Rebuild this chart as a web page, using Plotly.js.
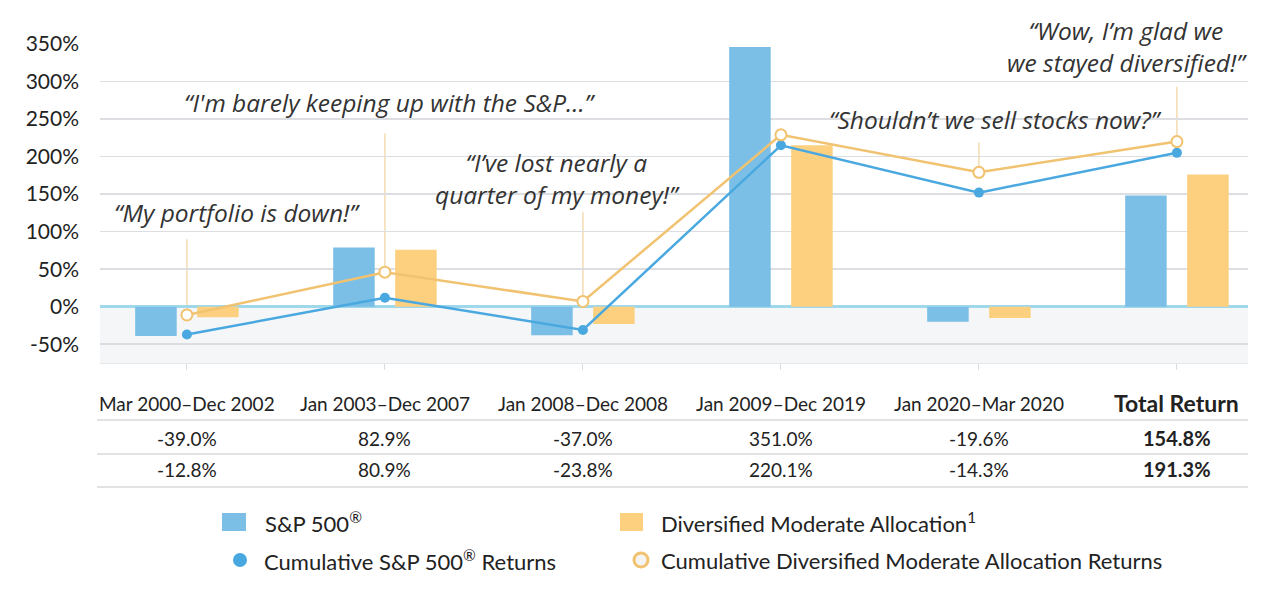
<!DOCTYPE html>
<html><head><meta charset="utf-8">
<script src="https://cdn.plot.ly/plotly-3.0.1.min.js"></script>
<style>html,body{margin:0;padding:0;background:#fff}</style>
</head><body><div id="chart" style="width:1280px;height:611px"></div>
<script>
// ---- data ----
const periods = ["Mar 2000–Dec 2002","Jan 2003–Dec 2007","Jan 2008–Dec 2008","Jan 2009–Dec 2019","Jan 2020–Mar 2020","Total Return"];
const spReturns = [-39, 79, -38, 346, -20, 148];
const divReturns = [-14, 76, -23, 215, -15, 176];
const spCumulative = [-37, 12, -31, 215, 152, 205];
const divCumulative = [-11, 46, 7, 229, 179, 220];
const spTable = ["-39.0%","82.9%","-37.0%","351.0%","-19.6%","154.8%"];
const divTable = ["-12.8%","80.9%","-23.8%","220.1%","-14.3%","191.3%"];
const yTickVals = [-50,0,50,100,150,200,250,300,350];
const yTickText = yTickVals.map(v => v + "%");
const quoteTexts = [
  "“My portfolio is down!”",
  "“I'm barely keeping up with the S&amp;P...”",
  "“I’ve lost nearly a<br>quarter of my money!”",
  "“Shouldn’t we sell stocks now?”",
  "“Wow, I’m glad we<br>we stayed diversified!”"
];
const quotePeriodIdx = [0, 1, 2, 4, 5];
const legendLabels = ["S&amp;P 500<sup>®</sup>","Diversified Moderate Allocation<sup>1</sup>","Cumulative S&amp;P 500<sup>®</sup> Returns","Cumulative Diversified Moderate Allocation Returns"];

// ---- layout helpers (pixel -> paper) ----
const L = 100, R = 1248, T = 44, B = 363;
const px = x => (x - L) / (R - L);
const py = y => (B - y) / (B - T);
const xs = periods.map((_, i) => i);

const blue = "#7bbfe6", orange = "#fdd080";
const blueLine = "#4aa8e0", orangeLine = "#f1c270";
const textFont = "Lato, 'Open Sans', sans-serif";
const quoteFont = "'Open Sans', sans-serif";

const traces = [
  {type:"bar", x:xs, y:spReturns, name:legendLabels[0], marker:{color:blue}, hoverinfo:"skip"},
  {type:"bar", x:xs, y:divReturns, name:legendLabels[1], marker:{color:orange}, hoverinfo:"skip"},
  {type:"scatter", mode:"lines+markers", x:xs, y:spCumulative, name:legendLabels[2],
   line:{color:blueLine, width:2.5}, marker:{color:blueLine, size:10}, hoverinfo:"skip"},
  {type:"scatter", mode:"lines+markers", x:xs, y:divCumulative, name:legendLabels[3],
   line:{color:orangeLine, width:2.5}, marker:{color:"#ffffff", size:11, line:{color:orangeLine, width:2}}, hoverinfo:"skip"}
];

const shapes = [];
const annotations = [];

// shaded region below zero
shapes.push({type:"rect", xref:"paper", yref:"y", x0:0, x1:1, y0:-75, y1:0, fillcolor:"#f5f6f8", line:{width:0}, layer:"below"});

// quote connector lines + quotes
const connectorTop = [90, 231, 126, 219, 293];
const quotePos = [
  {x:237, y:212}, {x:390, y:103}, {x:557, y:178}, {x:995, y:119}, {x:1127, y:46}
];
quoteTexts.forEach((t, k) => {
  const i = quotePeriodIdx[k];
  shapes.push({type:"line", xref:"x", yref:"y", x0:i, x1:i, y0:divCumulative[i], y1:connectorTop[k],
    line:{color:"#f0d39e", width:1.2}, layer:"below"});
  annotations.push({xref:"paper", yref:"paper", x:px(quotePos[k].x), y:py(quotePos[k].y),
    xanchor:"center", yanchor:"middle", text:"<i>"+t+"</i>", showarrow:false,
    font:{family:quoteFont, size:24.5, color:"#333333"}});
});

// table
const rowY = [403, 438, 469];
periods.forEach((p, i) => {
  const bold = (i === periods.length - 1);
  const wrap = s => bold ? "<b>"+s+"</b>" : s;
  annotations.push({xref:"x", yref:"paper", x:i, y:py(rowY[0]), text:wrap(p), showarrow:false,
    xanchor:"center", yanchor:"middle", font:{family:textFont, size:bold ? 23 : 19, color:"#222"}});
  annotations.push({xref:"x", yref:"paper", x:i, y:py(rowY[1]), text:wrap(spTable[i]), showarrow:false,
    xanchor:"center", yanchor:"middle", font:{family:textFont, size:bold ? 20 : 19, color:"#222"}});
  annotations.push({xref:"x", yref:"paper", x:i, y:py(rowY[2]), text:wrap(divTable[i]), showarrow:false,
    xanchor:"center", yanchor:"middle", font:{family:textFont, size:bold ? 20 : 19, color:"#222"}});
});
[420, 454, 487].forEach(y => {
  shapes.push({type:"line", xref:"paper", yref:"paper", x0:px(97), x1:px(1248), y0:py(y), y1:py(y),
    line:{color:"#d6d8db", width:1.5}});
});

// legend (custom)
shapes.push({type:"rect", xref:"paper", yref:"paper", x0:px(222), x1:px(246), y0:py(531), y1:py(513), fillcolor:blue, line:{width:0}});
shapes.push({type:"rect", xref:"paper", yref:"paper", x0:px(620), x1:px(643), y0:py(531), y1:py(513), fillcolor:orange, line:{width:0}});
shapes.push({type:"circle", xref:"paper", yref:"paper", x0:px(233), x1:px(247), y0:py(567), y1:py(553), fillcolor:blueLine, line:{width:0}});
shapes.push({type:"circle", xref:"paper", yref:"paper", x0:px(634), x1:px(648), y0:py(567), y1:py(553), fillcolor:"#f4f4f4", line:{color:orangeLine, width:3}});
const legPos = [{x:263,y:522},{x:659,y:522},{x:262,y:560},{x:659,y:560}];
legendLabels.forEach((t, k) => {
  annotations.push({xref:"paper", yref:"paper", x:px(legPos[k].x), y:py(legPos[k].y), text:t, showarrow:false,
    xanchor:"left", yanchor:"middle", font:{family:textFont, size:22, color:"#222"}});
});

const layout = {
  width:1280, height:611,
  margin:{l:L, r:1280-R, t:T, b:611-B, pad:0},
  paper_bgcolor:"#ffffff", plot_bgcolor:"rgba(0,0,0,0)",
  barmode:"group", bargap:0.374, bargroupgap:0.33,
  showlegend:false,
  xaxis:{range:[-0.439, 5.359], tickvals:xs, showticklabels:false, ticks:"outside", ticklen:6,
         tickcolor:"#dcdcdc", showgrid:false, zeroline:false, showline:true, linecolor:"#e6e7e9", linewidth:1, fixedrange:true},
  yaxis:{range:[-75, 350], tickvals:yTickVals, ticktext:yTickText, showgrid:true, gridcolor:"#dcdee1", gridwidth:1.5,
         zeroline:true, zerolinecolor:"#9fd8ea", zerolinewidth:3, ticklabelstandoff:20,
         tickfont:{family:textFont, size:21, color:"#222"}, fixedrange:true},
  shapes:shapes, annotations:annotations
};

Plotly.newPlot("chart", traces, layout, {displayModeBar:false, staticPlot:true});
</script>
</body></html>
